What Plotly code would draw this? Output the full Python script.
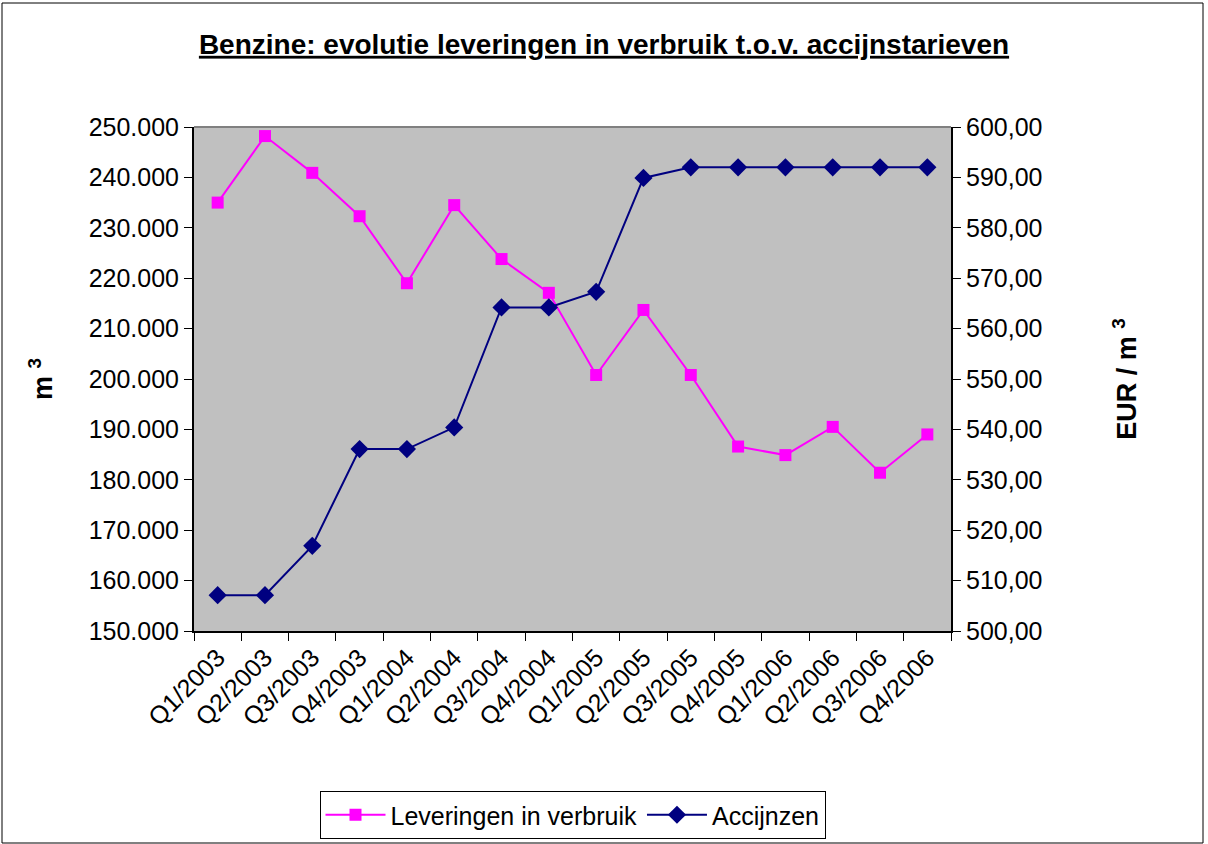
import plotly.graph_objects as go

categories = ["Q1/2003", "Q2/2003", "Q3/2003", "Q4/2003",
              "Q1/2004", "Q2/2004", "Q3/2004", "Q4/2004",
              "Q1/2005", "Q2/2005", "Q3/2005", "Q4/2005",
              "Q1/2006", "Q2/2006", "Q3/2006", "Q4/2006"]
leveringen = [235000, 248200, 240900, 232300, 219000, 234500, 223800, 217100,
              200800, 213700, 200800, 186600, 184900, 190500, 181400, 189000]
accijnzen = [507.1, 507.1, 516.9, 536.1, 536.1, 540.4, 564.2, 564.2,
             567.3, 589.9, 592.0, 592.0, 592.0, 592.0, 592.0, 592.0]

FONT = "Liberation Sans, Arial, sans-serif"

fig = go.Figure()
fig.add_trace(go.Scatter(
    x=categories, y=leveringen, name="Leveringen in verbruik",
    mode="lines+markers",
    line=dict(color="#FF00FF", width=2),
    marker=dict(symbol="square", size=12, color="#FF00FF"),
    yaxis="y"))
fig.add_trace(go.Scatter(
    x=categories, y=accijnzen, name="Accijnzen",
    mode="lines+markers",
    line=dict(color="#000080", width=2),
    marker=dict(symbol="diamond", size=14, color="#000080"),
    yaxis="y2"))

W, H = 1208, 844
L, R, T, B = 194, 257, 127, 213
pw, ph = W - L - R, H - T - B

fig.update_layout(
    width=W, height=H,
    margin=dict(l=L, r=R, t=T, b=B, autoexpand=False),
    paper_bgcolor="white",
    plot_bgcolor="#C0C0C0",
    separators=",.",
    font=dict(family=FONT, size=25, color="black"),
    title=dict(text="<u><b>Benzine: evolutie leveringen in verbruik t.o.v. accijnstarieven</b></u>",
               x=0.5, xref="container", xanchor="center",
               y=1 - 44 / H, yref="container", yanchor="middle",
               font=dict(family=FONT, size=28, color="black")),
    xaxis=dict(type="category", tickson="boundaries", ticks="outside", ticklen=8,
               tickcolor="black", tickangle=-45, showgrid=False,
               showline=True, linecolor="black", linewidth=2,
               tickfont=dict(size=25), range=[-0.5, 15.5]),
    yaxis=dict(range=[150000, 250000], dtick=10000, tickformat=",.0f",
               ticks="outside", ticklen=8, tickcolor="black",
               showgrid=False, showline=True, linecolor="black", linewidth=2,
               tickfont=dict(size=25),
               title=dict(text="<b>m <sup>3</sup></b>", font=dict(size=27), standoff=28)),
    yaxis2=dict(range=[500, 600], dtick=10, tickformat=".2f", overlaying="y", side="right",
                ticks="outside", ticklen=8, tickcolor="black",
                showgrid=False, showline=True, linecolor="black", linewidth=2,
                tickfont=dict(size=25),
                title=dict(text="<b>EUR / m <sup>3</sup></b>", font=dict(size=27), standoff=76)),
    legend=dict(orientation="h", x=0.5, xanchor="center",
                y=1 - (791 - T) / ph, yanchor="top",
                bgcolor="white", bordercolor="black", borderwidth=1,
                font=dict(size=25), itemwidth=60),
    showlegend=True,
)

# top plot-area border (grey)
fig.add_shape(type="line", xref="paper", yref="paper", x0=0, x1=1, y0=1, y1=1,
              line=dict(color="#808080", width=2))
# outer chart border
fig.add_shape(type="rect", xref="paper", yref="paper",
              x0=(2 - L) / pw, x1=(1203 - L) / pw,
              y0=1 - (843 - T) / ph, y1=1 + (T - 3) / ph,
              line=dict(color="black", width=1), fillcolor="rgba(0,0,0,0)")

fig.write_html("out.html", config={"displayModeBar": False},
               post_script="document.body.style.margin='0';")
